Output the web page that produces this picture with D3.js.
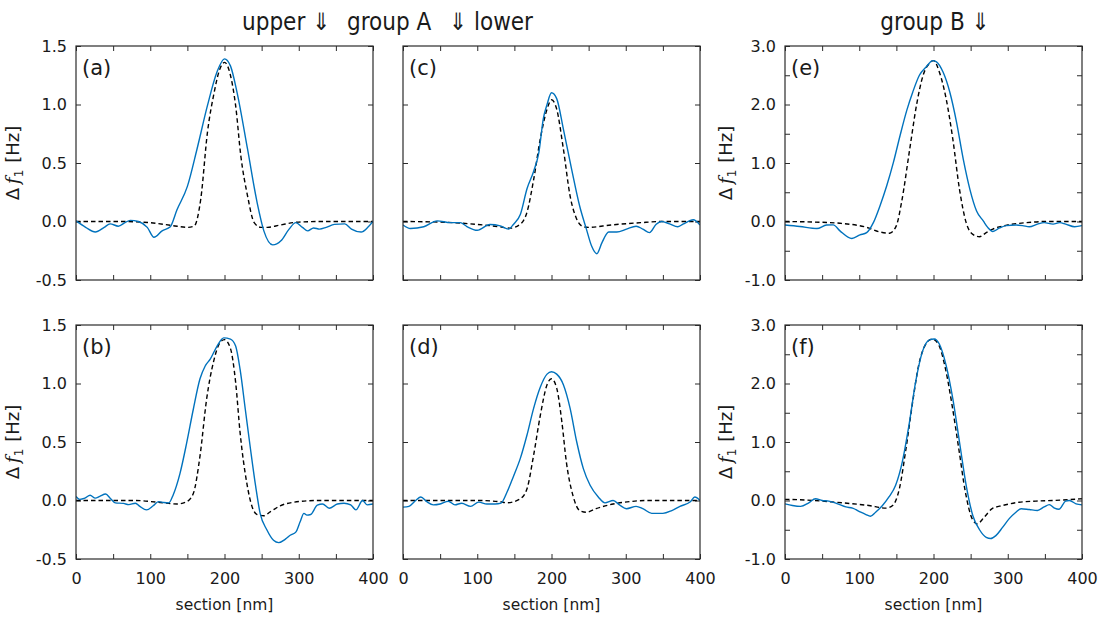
<!DOCTYPE html>
<html>
<head>
<meta charset="utf-8">
<script src="https://cdn.jsdelivr.net/npm/d3@7"></script>
<style>
  html, body { margin: 0; padding: 0; background: #fff; }
  svg text { fill: #1a1a1a; }
  .tick text { font-family: "DejaVu Sans", sans-serif; font-size: 16px; }
  .title { font-family: "DejaVu Sans", sans-serif; font-stretch: condensed; font-size: 24px; }
</style>
</head>
<body>
<svg id="chart" width="1102" height="621"></svg>
<script>
// Section profiles of the frequency shift: measured (blue) and model (dashed)
const sectionTicks = [0, 100, 200, 300, 400];

const aMeasured = [[0,0.005],[13,-0.05],[26,-0.09],[38,-0.05],[46,-0.02],[57,-0.04],[66,-0.01],[73,0.01],[84,0],[96,-0.05],[105,-0.135],[116,-0.08],[127,-0.045],[136,0.1],[150,0.3],[163,0.62],[177,0.99],[190,1.28],[200,1.39],[208,1.33],[217,1.1],[231,0.62],[244,0.16],[253,-0.08],[265,-0.2],[276,-0.165],[287,-0.065],[296,-0.01],[305,-0.05],[312,-0.08],[320,-0.055],[328,-0.065],[337,-0.05],[348,-0.025],[362,-0.02],[371,-0.065],[384,-0.09],[393,-0.05],[400,0]];
const aModel = [[0,0],[60,0],[100,-0.01],[130,-0.035],[150,-0.05],[159,-0.04],[168,0.19],[177,0.76],[186,1.1],[193,1.29],[200,1.36],[208,1.25],[215,0.99],[222,0.56],[231,0.22],[240,-0.01],[249,-0.05],[258,-0.05],[275,-0.03],[300,-0.005],[330,0],[400,0]];

const bMeasured = [[0,0.035],[5,0.01],[12,0.02],[19,0.045],[26,0.02],[32,0.035],[40,0.055],[46,0.02],[53,-0.02],[64,-0.025],[71,-0.035],[80,-0.023],[86,-0.05],[95,-0.08],[104,-0.045],[111,-0.01],[118,-0.017],[125,-0.02],[131,0.05],[140,0.23],[149,0.49],[158,0.78],[167,1.04],[174,1.15],[181,1.21],[190,1.32],[199,1.39],[208,1.38],[215,1.32],[221,1.12],[228,0.78],[235,0.44],[242,0.12],[248,-0.11],[257,-0.25],[266,-0.34],[273,-0.36],[282,-0.33],[289,-0.295],[296,-0.27],[302,-0.18],[307,-0.11],[311,-0.125],[316,-0.12],[325,-0.04],[332,-0.03],[341,-0.066],[352,-0.03],[361,-0.023],[370,-0.037],[377,-0.08],[386,0],[392,-0.037],[400,-0.03]];
const bModel = [[0,0],[80,0],[110,-0.015],[136,-0.03],[149,-0.01],[158,0.06],[167,0.38],[176,0.87],[185,1.18],[194,1.35],[200,1.375],[208,1.3],[215,1.01],[221,0.58],[230,0.15],[237,-0.05],[244,-0.12],[253,-0.13],[262,-0.095],[275,-0.045],[293,-0.015],[325,0],[400,0]];

const cMeasured = [[0,-0.03],[10,-0.06],[28,-0.045],[46,0.005],[64,-0.01],[77,-0.01],[86,-0.043],[100,-0.075],[117,-0.025],[131,-0.037],[142,-0.065],[149,-0.023],[158,0.06],[167,0.28],[176,0.43],[183,0.59],[189,0.88],[194,1.0],[200,1.1],[207,1.05],[216,0.79],[227,0.45],[238,0.13],[247,-0.065],[254,-0.21],[261,-0.275],[268,-0.18],[277,-0.09],[288,-0.09],[301,-0.065],[314,-0.04],[323,-0.065],[332,-0.095],[341,-0.023],[348,0],[359,-0.02],[370,-0.045],[377,-0.023],[391,0.015],[400,-0.03]];
const cModel = [[0,0],[50,-0.005],[100,-0.025],[130,-0.045],[144,-0.057],[158,-0.023],[167,0.08],[176,0.36],[185,0.71],[194,0.96],[200,1.04],[207,0.96],[216,0.62],[225,0.22],[234,0.02],[243,-0.045],[250,-0.05],[280,-0.03],[320,-0.01],[350,0],[400,0]];

const dMeasured = [[0,-0.057],[8,-0.05],[17,0],[24,0.03],[32,-0.01],[41,-0.037],[50,-0.03],[61,-0.006],[70,-0.037],[79,-0.023],[91,-0.05],[102,-0.014],[113,-0.03],[124,-0.03],[132,-0.023],[140,0.07],[149,0.21],[158,0.36],[167,0.56],[176,0.79],[185,0.97],[194,1.08],[200,1.1],[207,1.08],[216,0.99],[225,0.79],[234,0.5],[243,0.27],[252,0.13],[263,0.03],[272,-0.02],[283,0],[292,-0.04],[301,-0.07],[314,-0.05],[323,-0.07],[335,-0.11],[350,-0.11],[362,-0.086],[373,-0.05],[387,-0.01],[393,0.03],[400,0]];
const dModel = [[0,0],[100,0],[130,-0.01],[140,-0.02],[158,0.015],[167,0.1],[176,0.39],[185,0.73],[194,0.99],[200,1.04],[207,0.96],[214,0.67],[220,0.33],[229,0.04],[238,-0.086],[247,-0.1],[260,-0.07],[283,-0.03],[305,-0.01],[327,0],[400,0]];

const eMeasured = [[0,-0.06],[20,-0.085],[43,-0.12],[56,-0.06],[65,-0.057],[74,-0.16],[90,-0.29],[101,-0.23],[110,-0.19],[119,-0.02],[128,0.27],[137,0.61],[146,1.01],[155,1.47],[164,1.9],[172,2.21],[181,2.5],[190,2.64],[199,2.75],[204,2.73],[213,2.55],[222,2.21],[231,1.7],[240,1.07],[249,0.55],[258,0.18],[267,0.01],[273,-0.1],[280,-0.17],[289,-0.11],[298,-0.07],[311,-0.06],[320,-0.07],[329,-0.09],[340,-0.045],[349,-0.02],[361,-0.045],[370,-0.02],[378,-0.045],[390,-0.09],[400,-0.07]];
const eModel = [[0,0],[40,-0.01],[74,-0.03],[110,-0.1],[128,-0.18],[141,-0.2],[150,-0.07],[157,0.33],[168,1.24],[177,1.98],[186,2.5],[195,2.71],[200,2.75],[208,2.55],[217,2.1],[226,1.41],[235,0.55],[244,-0.02],[253,-0.22],[262,-0.26],[271,-0.19],[280,-0.13],[300,-0.06],[325,-0.02],[350,0],[400,0]];

const fMeasured = [[0,-0.057],[10,-0.085],[21,-0.1],[32,-0.04],[41,0.03],[50,0],[59,-0.01],[71,-0.057],[82,-0.11],[91,-0.13],[102,-0.2],[109,-0.24],[115,-0.27],[122,-0.2],[131,-0.09],[140,0.06],[149,0.26],[158,0.66],[167,1.29],[176,2.03],[185,2.54],[194,2.74],[201,2.76],[208,2.67],[217,2.31],[226,1.74],[235,1.0],[244,0.26],[253,-0.26],[262,-0.5],[271,-0.63],[277,-0.65],[284,-0.6],[293,-0.46],[302,-0.31],[311,-0.2],[318,-0.14],[329,-0.155],[340,-0.17],[349,-0.11],[356,-0.07],[363,-0.13],[369,-0.15],[378,-0.01],[383,0],[392,-0.057],[400,-0.075]];
const fModel = [[0,0.02],[40,0.0],[68,-0.03],[113,-0.086],[136,-0.13],[145,-0.086],[154,0.2],[163,0.89],[172,1.69],[180,2.31],[189,2.66],[198,2.76],[207,2.66],[216,2.26],[225,1.63],[234,0.89],[243,0.14],[252,-0.31],[259,-0.4],[268,-0.29],[279,-0.14],[293,-0.086],[315,-0.03],[338,-0.01],[360,0],[400,0.03]];

const smallTicks = [-0.5, 0, 0.5, 1.0, 1.5];
const largeTicks = [-1, -0.5, 0, 0.5, 1, 1.5, 2, 2.5, 3];

const panels = [
  {id: "(a)", col: 0, row: 0, yDomain: [-0.5, 1.5], yTicks: smallTicks, measured: aMeasured, model: aModel},
  {id: "(b)", col: 0, row: 1, yDomain: [-0.5, 1.5], yTicks: smallTicks, measured: bMeasured, model: bModel},
  {id: "(c)", col: 1, row: 0, yDomain: [-0.5, 1.5], yTicks: smallTicks, measured: cMeasured, model: cModel},
  {id: "(d)", col: 1, row: 1, yDomain: [-0.5, 1.5], yTicks: smallTicks, measured: dMeasured, model: dModel},
  {id: "(e)", col: 2, row: 0, yDomain: [-1, 3], yTicks: largeTicks, measured: eMeasured, model: eModel},
  {id: "(f)", col: 2, row: 1, yDomain: [-1, 3], yTicks: largeTicks, measured: fMeasured, model: fModel}
];

const colLeft = [76, 403, 785];
const rowTop = [46, 325];
const pw = 297, ph = 234;
const blue = "#0072BD";
const frame = "#2b2b2b";

const svg = d3.select("#chart");

// column headers
svg.append("text").attr("class", "title").attr("x", 242).attr("y", 30).text("upper \u21D3");
svg.append("text").attr("class", "title").attr("x", 347).attr("y", 30).text("group A");
svg.append("text").attr("class", "title").attr("x", 533).attr("y", 30).attr("text-anchor", "end").text("\u21D3 lower");
svg.append("text").attr("class", "title").attr("x", 935).attr("y", 30).attr("text-anchor", "middle").text("group B \u21D3");

panels.forEach(p => {
  const g = svg.append("g").attr("transform", `translate(${colLeft[p.col]},${rowTop[p.row]})`);
  const x = d3.scaleLinear().domain([0, 400]).range([0, pw]);
  const y = d3.scaleLinear().domain(p.yDomain).range([ph, 0]);
  const xAllTicks = d3.range(0, 401, 50);
  const showYLabels = p.col !== 1;
  const showXLabels = p.row === 1;
  const yFmt = d => {
    if (!showYLabels) return "";
    if (p.yDomain[1] > 2 && !Number.isInteger(d)) return "";
    return d.toFixed(1);
  };

  g.append("g").call(d3.axisLeft(y).tickValues(p.yTicks).tickSizeInner(-5).tickSizeOuter(0).tickPadding(9).tickFormat(yFmt));
  g.append("g").attr("transform", `translate(${pw},0)`).call(d3.axisRight(y).tickValues(p.yTicks).tickSizeInner(-5).tickSizeOuter(0).tickFormat(""));
  g.append("g").attr("transform", `translate(0,${ph})`).call(d3.axisBottom(x).tickValues(xAllTicks).tickSizeInner(-5).tickSizeOuter(0).tickPadding(14)
    .tickFormat(d => showXLabels && sectionTicks.includes(d) ? d : ""));
  g.append("g").call(d3.axisTop(x).tickValues(xAllTicks).tickSizeInner(-5).tickSizeOuter(0).tickFormat(""));
  g.selectAll(".domain").remove();
  g.selectAll(".tick line").attr("stroke", frame);

  g.append("clipPath").attr("id", "clip" + p.col + p.row)
    .append("rect").attr("width", pw).attr("height", ph);

  const line = d3.line().x(d => x(d[0])).y(d => y(d[1])).curve(d3.curveMonotoneX);
  const plot = g.append("g").attr("clip-path", `url(#clip${p.col}${p.row})`);
  plot.append("path").datum(p.model).attr("d", line)
    .attr("fill", "none").attr("stroke", "#000").attr("stroke-width", 1.4).attr("stroke-dasharray", "4.5,3");
  plot.append("path").datum(p.measured).attr("d", line)
    .attr("fill", "none").attr("stroke", blue).attr("stroke-width", 1.4);

  g.append("rect").attr("width", pw).attr("height", ph)
    .attr("fill", "none").attr("stroke", frame).attr("stroke-width", 1.2);

  g.append("text").attr("x", 6).attr("y", 29)
    .style("font-family", "DejaVu Sans, sans-serif").style("font-size", "21px").text(p.id);

  if (showXLabels) {
    g.append("text").attr("x", pw / 2).attr("y", ph + 51).attr("text-anchor", "middle")
      .style("font-family", "DejaVu Sans, sans-serif").style("font-size", "15.5px").text("section [nm]");
  }
  if (showYLabels) {
    const lx = p.col === 0 ? -57 : -53;
    const t = g.append("text").attr("transform", `translate(${lx},${ph / 2}) rotate(-90)`)
      .attr("text-anchor", "middle").style("font-family", "DejaVu Sans, sans-serif").style("font-size", "18px");
    t.append("tspan").text("\u0394");
    t.append("tspan").attr("dx", 4).style("font-family", "DejaVu Serif, serif").style("font-style", "italic").text("f");
    t.append("tspan").attr("dy", 4).style("font-size", "12px").text("1");
    t.append("tspan").attr("dy", -4).attr("dx", 7).text("[Hz]");
  }
});
</script>
</body>
</html>
